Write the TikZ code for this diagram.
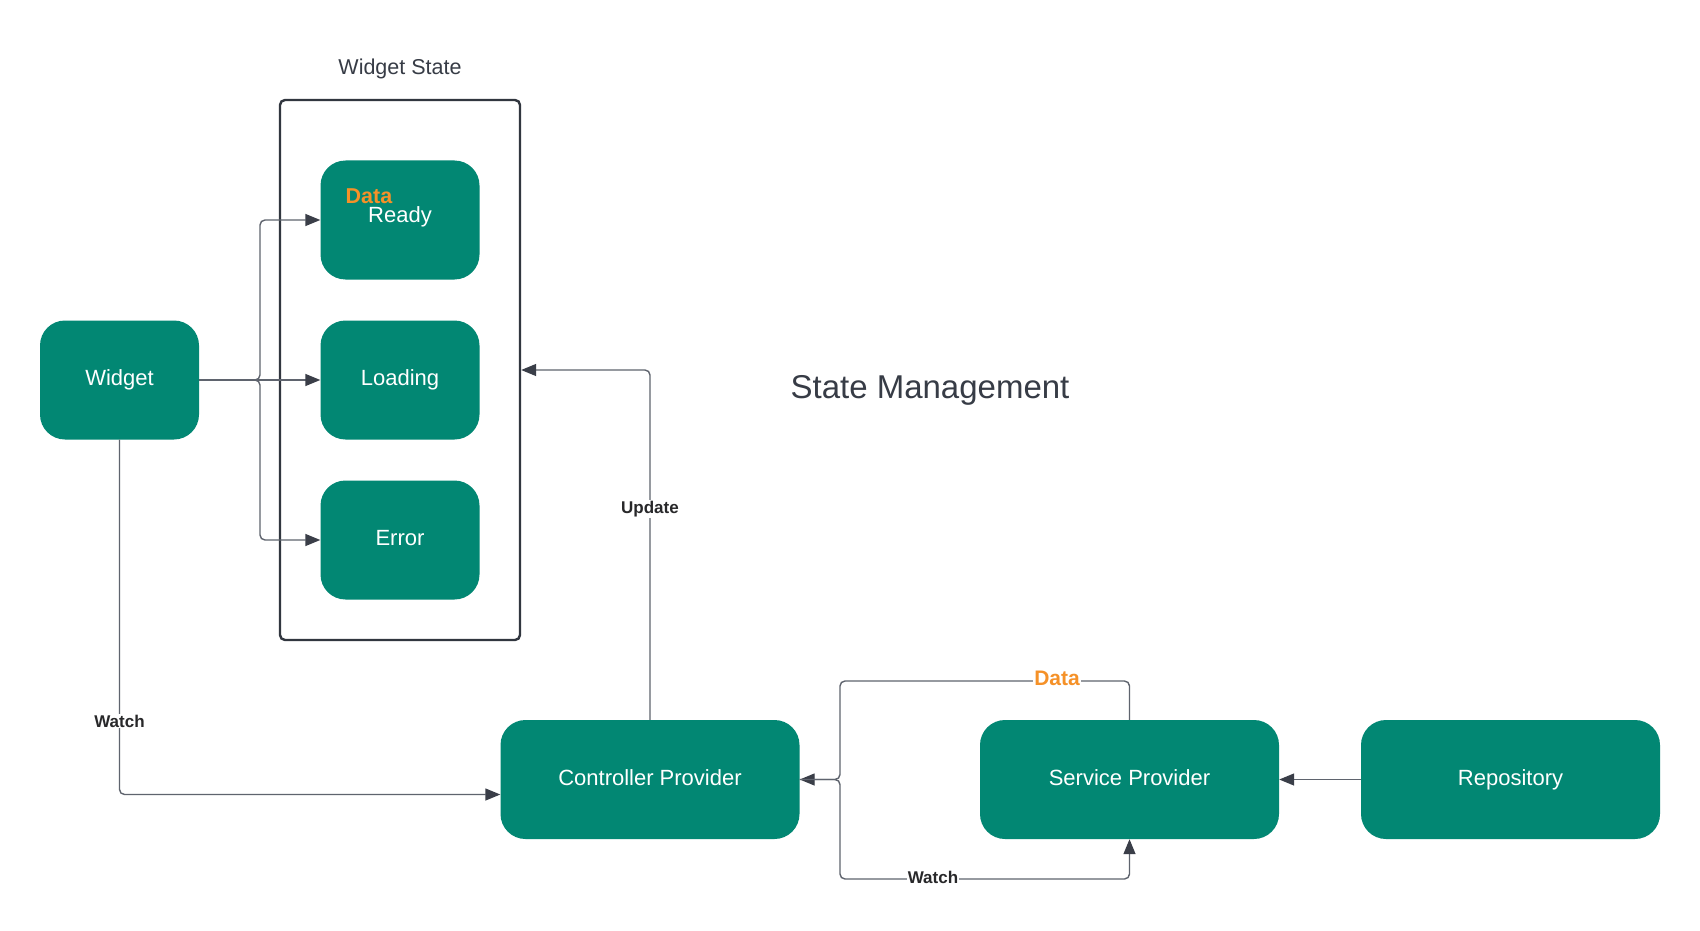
\documentclass[tikz,border=0pt]{standalone}
\usepackage{fontspec}
\setmainfont{Liberation Sans}
\usetikzlibrary{arrows.meta}
\definecolor{teal1}{RGB}{2,135,115}
\definecolor{orng}{RGB}{245,145,40}
\definecolor{ink}{RGB}{55,60,70}
\definecolor{lbl}{RGB}{40,40,42}
\definecolor{wire}{RGB}{95,100,110}
\definecolor{tip}{RGB}{58,62,72}
\tikzset{
  box/.style={rectangle, rounded corners=25pt, fill=teal1, draw=none, text=white,
    font=\fontsize{22}{26}\selectfont, inner sep=0pt, text depth=4pt},
  smallbox/.style={box, minimum width=159pt, minimum height=119pt},
  widebox/.style={box, minimum width=299pt, minimum height=119pt},
  conn/.style={draw=wire, line width=1.4pt, rounded corners=5pt,
    -{Triangle[length=15pt,width=12pt,fill=tip,color=tip]}},
  elabel/.style={fill=white, text=lbl, font=\bfseries\fontsize{17}{20}\selectfont, inner sep=1pt},
  dlabel/.style={fill=white, text=orng, font=\bfseries\fontsize{21}{24}\selectfont, inner sep=1pt},
}
\begin{document}
\begin{tikzpicture}[x=1pt,y=-1pt]
\useasboundingbox[fill=white] (0,0) rectangle (1700,931);
% container
\node[draw=ink!90!black, line width=2.4pt, rounded corners=5pt, minimum width=240pt,
      minimum height=540pt, inner sep=0pt] (container) at (400,370) {};
\node[text=ink, font=\fontsize{21.5}{25}\selectfont] (wstitle) at (400,69) {Widget State};
% state boxes
\node[smallbox] (ready) at (400,220) {};
\node[text=orng, font=\bfseries\fontsize{21.5}{25}\selectfont] (readydata) at (369,196) {Data};
\node[text=white, font=\fontsize{22}{26}\selectfont] (readytxt) at (400,217) {Ready};
\node[smallbox] (loading) at (400,380) {Loading};
\node[smallbox] (error) at (400,540) {Error};
\node[smallbox] (widget) at (119.5,380) {Widget};
% title
\node[text=ink, font=\fontsize{33}{38}\selectfont] (title) at (930,390) {State Management};
% lower row
\node[widebox] (ctrl) at (650,779.5) {Controller Provider};
\node[widebox] (svc) at (1129.5,779.5) {Service Provider};
\node[widebox] (repo) at (1510.5,779.5) {Repository};
% widget fan-out
\coordinate (fan) at (260,380);
\draw[conn] (widget.east) -- (fan) |- (ready.west);
\draw[conn] (widget.east) -- (loading.west);
\draw[conn] (widget.east) -- (fan) |- (error.west);
% widget watch controller
\draw[conn] (widget.south) |- ([yshift=-15pt]ctrl.west);
\node[elabel] (watch1) at (119.5,721) {Watch};
% update
\draw[conn] (ctrl.north) |- (container.east);
\node[elabel] (upd) at (650,509) {Update};
% data loop
\coordinate (dtop) at (840,681);
\draw[conn] (svc.north) |- (dtop) |- (ctrl.east);
\node[dlabel] (datalbl) at (1057,678) {Data};
% watch loop
\coordinate (wbot) at (840,879);
\draw[conn] (ctrl.east) -| (wbot) -| (svc.south);
\node[elabel] (watch2) at (933,877) {Watch};
% repo
\draw[conn] (repo.west) -- (svc.east);
\end{tikzpicture}
\end{document}
